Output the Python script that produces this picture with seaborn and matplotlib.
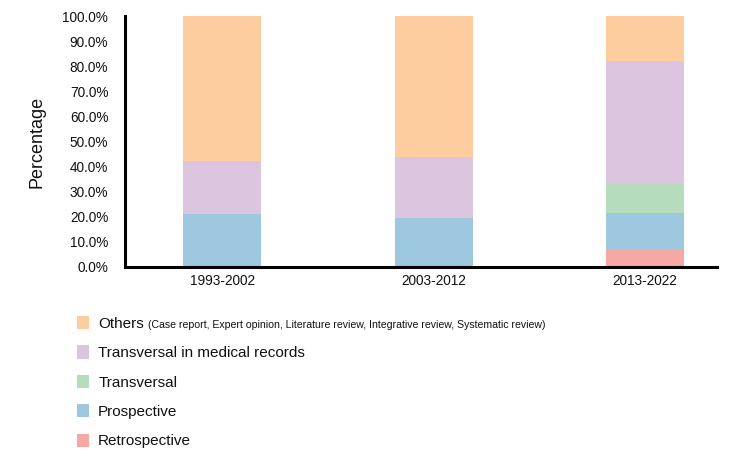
import numpy as np
import pandas as pd
import seaborn as sns
import matplotlib.pyplot as plt
from matplotlib.patches import Patch

periods = ["1993-2002", "2003-2012", "2013-2022"]
# study designs, bottom to top of each stack (percent)
retrospective = [0.0, 0.0, 7.0]
prospective = [21.1, 19.5, 14.5]
transversal = [0.0, 0.0, 11.6]
medical_records = [21.1, 24.4, 48.9]
others = [57.8, 56.1, 18.0]

series_names = ["Retrospective", "Prospective", "Transversal",
                "Transversal in medical records", "Others"]
colors = ["#F6A9A4", "#9DC8DF", "#B5DDBD", "#DCC5DF", "#FDCD9F"]

sns.set_style("white")
plt.rcParams["font.family"] = ["Liberation Sans", "DejaVu Sans"]

df = pd.DataFrame({"period": periods, "Retrospective": retrospective,
                   "Prospective": prospective, "Transversal": transversal,
                   "Transversal in medical records": medical_records,
                   "Others": others})
cum = df[series_names].cumsum(axis=1)

fig = plt.figure(figsize=(7.51, 4.63), dpi=100)
ax = fig.add_axes([125/751, 1-267/463, (717-125)/751, (267-16)/463])

# overlap cumulative bars, tallest first
for name, col in reversed(list(zip(series_names, colors))):
    sns.barplot(x=df["period"], y=cum[name], color=col, width=0.37,
                saturation=1, ax=ax, linewidth=0)

ax.set_ylim(0, 100)
ax.set_xlim(-0.46, 2.34)
ax.set_yticks(np.arange(0, 101, 10))
ax.set_yticklabels([f"{v:.1f}%" for v in range(0, 101, 10)], fontsize=9.8)
ax.tick_params(axis="y", direction="out", length=5, width=2, color="black",
               pad=7, labelcolor="#111111")
ax.tick_params(axis="x", length=0, labelsize=9.8, pad=5, labelcolor="#111111")
ax.set_xlabel("")
ax.set_ylabel("Percentage", fontsize=13, labelpad=12, color="#111111")
sns.despine(ax=ax)
for s in ("left", "bottom"):
    ax.spines[s].set_linewidth(2.2)
    ax.spines[s].set_color("black")

handles = [Patch(facecolor=c, edgecolor="none") for c in reversed(colors)]
labels = list(reversed(series_names))
leg = fig.legend(handles, labels, loc="upper left", bbox_to_anchor=(71/751, 1-310/463),
                 frameon=False, fontsize=11, handlelength=0.78, handleheight=0.95,
                 handletextpad=0.6, labelspacing=0.95, borderaxespad=0,
                 labelcolor="#111111")

fig.canvas.draw()
txt = leg.get_texts()[0]
bb = txt.get_window_extent()
inv = fig.transFigure.inverted()
x0, y0 = inv.transform((bb.x1 + 4, bb.y0 + 3))
fig.text(x0, y0, "(Case report, Expert opinion, Literature review, Integrative review, Systematic review)",
         fontsize=7.6, va="baseline", ha="left", color="#111111")

fig.savefig("out.png", dpi=100)
